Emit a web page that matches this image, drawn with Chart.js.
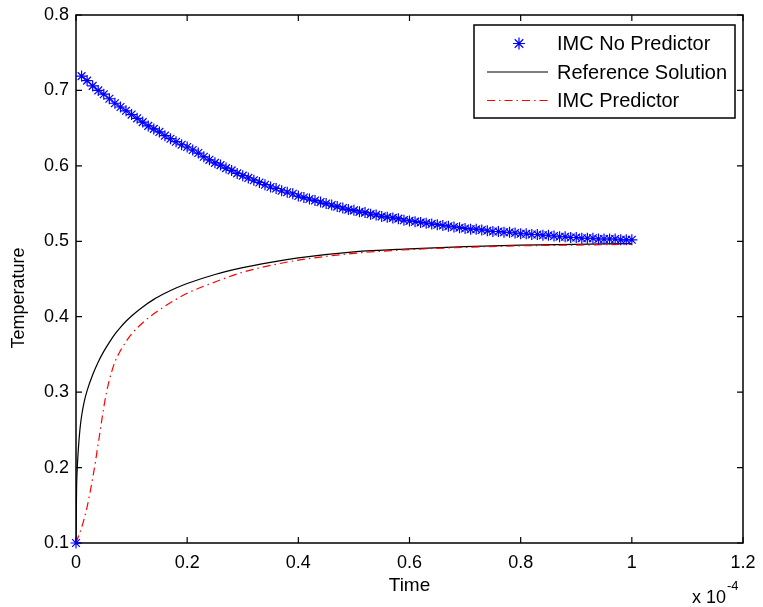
<!DOCTYPE html>
<html>
<head>
<meta charset="utf-8">
<script src="https://cdn.jsdelivr.net/npm/chart.js@4.4.0/dist/chart.umd.min.js"></script>
<style>
html, body { margin: 0; padding: 0; background: #ffffff; }
#wrap { width: 763px; height: 607px; }
</style>
</head>
<body>
<div id="wrap"><canvas id="c" width="763" height="607"></canvas></div>
<script>
// ---- Data (time in units of 1e-4) ----
const tStar = [
  0.00,
  0.01, 0.02, 0.03, 0.04, 0.05, 0.06, 0.07, 0.08, 0.09, 0.10,
  0.11, 0.12, 0.13, 0.14, 0.15, 0.16, 0.17, 0.18, 0.19, 0.20,
  0.21, 0.22, 0.23, 0.24, 0.25, 0.26, 0.27, 0.28, 0.29, 0.30,
  0.31, 0.32, 0.33, 0.34, 0.35, 0.36, 0.37, 0.38, 0.39, 0.40,
  0.41, 0.42, 0.43, 0.44, 0.45, 0.46, 0.47, 0.48, 0.49, 0.50,
  0.51, 0.52, 0.53, 0.54, 0.55, 0.56, 0.57, 0.58, 0.59, 0.60,
  0.61, 0.62, 0.63, 0.64, 0.65, 0.66, 0.67, 0.68, 0.69, 0.70,
  0.71, 0.72, 0.73, 0.74, 0.75, 0.76, 0.77, 0.78, 0.79, 0.80,
  0.81, 0.82, 0.83, 0.84, 0.85, 0.86, 0.87, 0.88, 0.89, 0.90,
  0.91, 0.92, 0.93, 0.94, 0.95, 0.96, 0.97, 0.98, 0.99, 1.00
];
const noPredictorTemp = [
  0.100,
  0.719, 0.713, 0.706, 0.700, 0.695, 0.689, 0.683, 0.678, 0.673, 0.668,
  0.663, 0.658, 0.653, 0.649, 0.645, 0.640, 0.636, 0.632, 0.628, 0.625,
  0.621, 0.617, 0.612, 0.608, 0.604, 0.601, 0.597, 0.594, 0.590, 0.587,
  0.584, 0.581, 0.578, 0.575, 0.572, 0.570, 0.567, 0.565, 0.563, 0.560,
  0.558, 0.556, 0.554, 0.552, 0.550, 0.548, 0.546, 0.544, 0.542, 0.541,
  0.539, 0.538, 0.536, 0.535, 0.533, 0.532, 0.531, 0.530, 0.528, 0.527,
  0.526, 0.525, 0.524, 0.523, 0.522, 0.521, 0.520, 0.519, 0.518, 0.517,
  0.516, 0.516, 0.515, 0.514, 0.513, 0.513, 0.512, 0.512, 0.511, 0.510,
  0.510, 0.509, 0.509, 0.508, 0.508, 0.507, 0.506, 0.506, 0.505, 0.505,
  0.504, 0.504, 0.504, 0.503, 0.503, 0.503, 0.503, 0.502, 0.502, 0.502
];
const tRef = [0, 0.001, 0.002, 0.004, 0.007, 0.01, 0.015, 0.02, 0.03, 0.04, 0.05, 0.06, 0.07, 0.08, 0.09, 0.10,
  0.12, 0.14, 0.16, 0.18, 0.20, 0.25, 0.30, 0.35, 0.40, 0.50, 0.60, 0.70, 0.80, 0.90, 1.00];
const refTemp = [0.100, 0.170, 0.195, 0.222, 0.250, 0.268, 0.288, 0.302, 0.323, 0.340, 0.354, 0.366, 0.377, 0.386, 0.394, 0.401,
  0.413, 0.423, 0.431, 0.438, 0.444, 0.456, 0.465, 0.472, 0.478, 0.486, 0.490, 0.493, 0.495, 0.496, 0.497];
const tPred = [0, 0.005, 0.01, 0.015, 0.02, 0.025, 0.03, 0.035, 0.04, 0.045, 0.05, 0.055, 0.06, 0.065, 0.07, 0.08, 0.09, 0.10,
  0.12, 0.14, 0.16, 0.18, 0.20, 0.25, 0.30, 0.35, 0.40, 0.50, 0.60, 0.70, 0.80, 0.90, 1.00];
const predTemp = [0.100, 0.110, 0.120, 0.133, 0.148, 0.166, 0.186, 0.208, 0.232, 0.256, 0.280, 0.300, 0.316, 0.329, 0.340, 0.355, 0.367, 0.377,
  0.392, 0.404, 0.414, 0.423, 0.431, 0.446, 0.459, 0.468, 0.475, 0.484, 0.489, 0.492, 0.494, 0.495, 0.496];
const seriesNames = ['IMC No Predictor', 'Reference Solution', 'IMC Predictor'];
const xTitle = 'Time';
const yTitle = 'Temperature';
const xMultiplier = 'x 10';
const xExponent = '-4';

const FONT = '"Liberation Sans", Arial, Helvetica, sans-serif';
const toPts = (xs, ys) => xs.map((x, i) => ({ x: x, y: ys[i] }));
const fmtTick = v => String(Math.round(v * 10) / 10);

// ---- Plugin: MATLAB-like box, inward ticks, legend, labels ----
const matlabAxes = {
  id: 'matlabAxes',
  beforeDatasetsDraw(chart) {
    const { ctx, chartArea: a, scales: { x, y } } = chart;
    ctx.save();
    ctx.strokeStyle = '#000';
    ctx.lineWidth = 1.5;
    ctx.strokeRect(a.left, a.top, a.right - a.left, a.bottom - a.top);
    ctx.lineWidth = 1.2;
    const L = 6;
    ctx.beginPath();
    x.ticks.forEach(t => {
      const px = x.getPixelForValue(t.value);
      ctx.moveTo(px, a.bottom); ctx.lineTo(px, a.bottom - L);
      ctx.moveTo(px, a.top); ctx.lineTo(px, a.top + L);
    });
    y.ticks.forEach(t => {
      const py = y.getPixelForValue(t.value);
      ctx.moveTo(a.left, py); ctx.lineTo(a.left + L, py);
      ctx.moveTo(a.right, py); ctx.lineTo(a.right - L, py);
    });
    ctx.stroke();
    // y axis title (rotated)
    ctx.fillStyle = '#000';
    ctx.font = '18px ' + FONT;
    ctx.textAlign = 'center';
    ctx.textBaseline = 'middle';
    ctx.translate(19, 298);
    ctx.rotate(-Math.PI / 2);
    ctx.fillText(yTitle, 0, 0);
    ctx.restore();
  },
  afterDraw(chart) {
    const { ctx, chartArea: a } = chart;
    const ds = chart.data.datasets;
    ctx.save();
    // legend box
    const bw = 261, bh = 93;
    const bx = a.right - 269, by = a.top + 10;
    ctx.fillStyle = '#fff';
    ctx.fillRect(bx, by, bw, bh);
    ctx.strokeStyle = '#000';
    ctx.lineWidth = 1.5;
    ctx.strokeRect(bx, by, bw, bh);
    const rows = [by + 18.5, by + 47, by + 75.5];
    const sx0 = bx + 13, sx1 = bx + 74, sxm = bx + 45;
    ds.forEach((d, i) => {
      const yy = rows[i];
      ctx.save();
      ctx.strokeStyle = d.borderColor;
      ctx.lineWidth = d.borderWidth;
      if (d.showLine) {
        ctx.setLineDash(d.borderDash || []);
        ctx.beginPath();
        ctx.moveTo(sx0, yy); ctx.lineTo(sx1, yy);
        ctx.stroke();
      } else {
        const r = d.pointRadius + 0.5;
        ctx.beginPath();
        for (let k = 0; k < 4; k++) {
          const ang = k * Math.PI / 4;
          ctx.moveTo(sxm - r * Math.cos(ang), yy - r * Math.sin(ang));
          ctx.lineTo(sxm + r * Math.cos(ang), yy + r * Math.sin(ang));
        }
        ctx.stroke();
      }
      ctx.restore();
      ctx.fillStyle = '#000';
      ctx.font = '20px ' + FONT;
      ctx.textBaseline = 'middle';
      ctx.textAlign = 'left';
      ctx.fillText(d.label, bx + 83, yy + 1);
    });
    // exponent label
    ctx.fillStyle = '#000';
    ctx.textBaseline = 'alphabetic';
    ctx.textAlign = 'left';
    ctx.font = '18px ' + FONT;
    ctx.fillText(xMultiplier, a.right - 51, 603);
    const w = ctx.measureText(xMultiplier).width;
    ctx.font = '13px ' + FONT;
    ctx.fillText(xExponent, a.right - 51 + w + 1, 590);
    ctx.restore();
  }
};

const chart = new Chart(document.getElementById('c'), {
  type: 'scatter',
  data: {
    datasets: [
      {
        label: seriesNames[0],
        data: toPts(tStar, noPredictorTemp),
        showLine: false,
        pointStyle: 'star',
        pointRadius: 5.5,
        pointBorderWidth: 1.2,
        borderWidth: 1.2,
        borderColor: '#0000ff',
        backgroundColor: '#0000ff',
        pointBorderColor: '#0000ff',
        clip: false,
        order: 0
      },
      {
        label: seriesNames[1],
        data: toPts(tRef, refTemp),
        showLine: true,
        pointRadius: 0,
        borderWidth: 1.2,
        borderColor: '#000000',
        backgroundColor: '#000000',
        cubicInterpolationMode: 'monotone',
        fill: false,
        order: 2
      },
      {
        label: seriesNames[2],
        data: toPts(tPred, predTemp),
        showLine: true,
        pointRadius: 0,
        borderWidth: 1.2,
        borderColor: '#ff0000',
        backgroundColor: '#ff0000',
        borderDash: [8, 4, 1.5, 4],
        cubicInterpolationMode: 'monotone',
        fill: false,
        order: 1
      }
    ]
  },
  options: {
    responsive: false,
    animation: false,
    devicePixelRatio: 1,
    layout: { padding: { top: 15, right: 20, left: 0, bottom: 0 } },
    plugins: { legend: { display: false }, tooltip: { enabled: false } },
    scales: {
      x: {
        type: 'linear',
        min: 0, max: 1.2,
        grid: { display: false, drawTicks: false },
        border: { display: false },
        ticks: { stepSize: 0.2, color: '#000', padding: 9, maxRotation: 0, font: { family: FONT, size: 18 }, callback: fmtTick },
        title: { display: true, text: xTitle, color: '#000', padding: { top: 0, bottom: 10 }, font: { family: FONT, size: 19 } },
        afterFit(scale) { scale.height = 64; scale.paddingLeft = 0; scale.paddingRight = 0; }
      },
      y: {
        type: 'linear',
        min: 0.1, max: 0.8,
        grid: { display: false, drawTicks: false },
        border: { display: false },
        ticks: { stepSize: 0.1, color: '#000', padding: 7, font: { family: FONT, size: 18 }, callback: fmtTick },
        title: { display: false },
        afterFit(scale) { scale.width = 76; scale.paddingTop = 0; scale.paddingBottom = 0; }
      }
    }
  },
  plugins: [matlabAxes]
});
</script>
</body>
</html>
